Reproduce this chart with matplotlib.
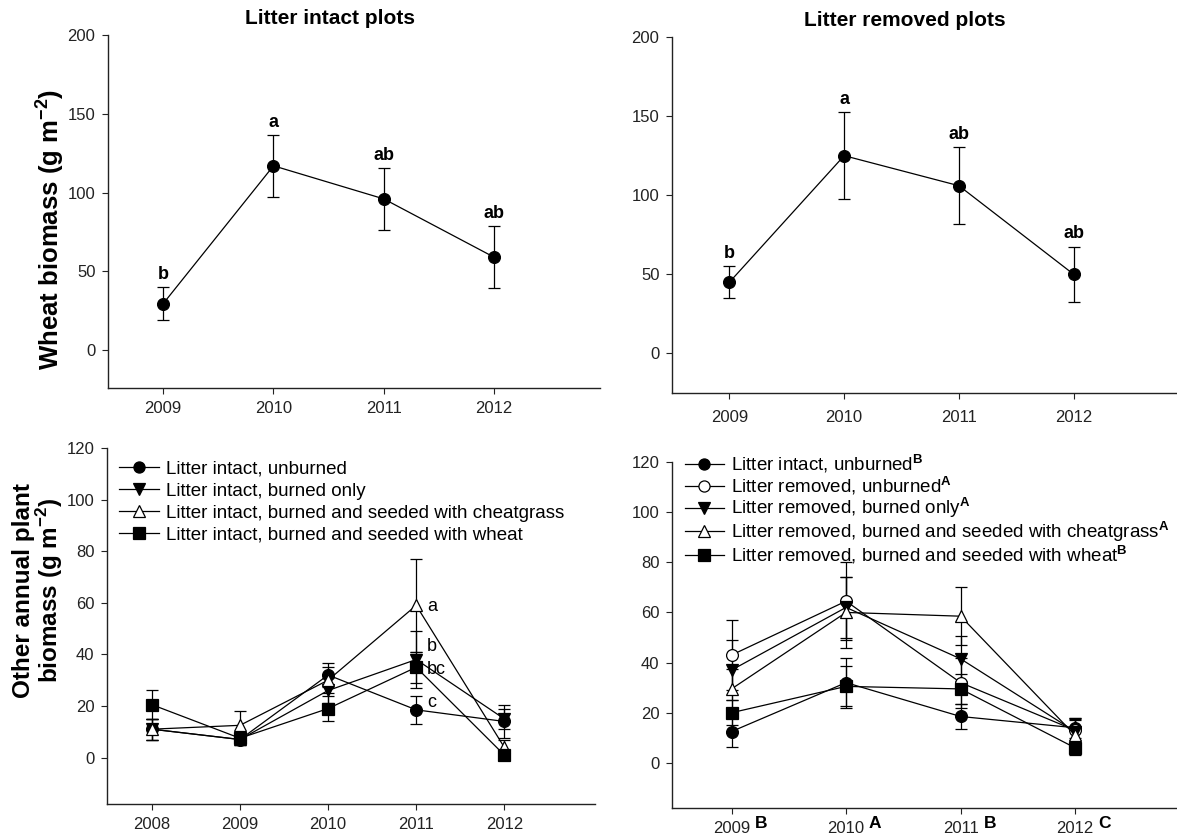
import matplotlib
matplotlib.use("Agg")
import matplotlib.pyplot as plt
from matplotlib.lines import Line2D

plt.rcParams['font.family'] = ['Liberation Sans', 'DejaVu Sans']
plt.rcParams['mathtext.fontset'] = 'custom'
plt.rcParams['mathtext.rm'] = 'Liberation Sans'
plt.rcParams['mathtext.bf'] = 'Liberation Sans:bold'

# wheat biomass, top row
wheat_years = [2009, 2010, 2011, 2012]
wheat_intact = [29.5, 117, 96, 59]
wheat_intact_err = [10.5, 19.5, 19.5, 19.5]
wheat_intact_letters = ['b', 'a', 'ab', 'ab']
wheat_removed = [45, 125, 106, 50]
wheat_removed_err = [10, 27.5, 24.5, 17.5]
wheat_removed_letters = ['b', 'a', 'ab', 'ab']

# other annual plant biomass, litter intact plots
intact_years = [2008, 2009, 2010, 2011, 2012]
intact_unburned = [11, 7, 32, 18.5, 14]
intact_unburned_err = [4, 2, 4.5, 5.5, 6.5]
intact_burned = [11, 7, 26, 38, 15]
intact_burned_err = [4, 2, 5, 11, 4]
intact_cheat = [11, 12.5, 30, 59, 4]
intact_cheat_err = [4, 5.5, 5, 18, 3]
intact_wheat = [20.5, 7.5, 19, 35, 1]
intact_wheat_err = [5.5, 2.5, 5, 6, 1]
intact_letters = ['a', 'b', 'bc', 'c']
intact_letter_y = [58.5, 43, 34, 21.5]

# other annual plant biomass, litter removed plots
removed_years = [2009, 2010, 2011, 2012]
removed_year_letters = ['B', 'A', 'B', 'C']
rem_intact_unburned = [12.5, 32, 18.5, 14]
rem_intact_unburned_err = [6, 10, 5, 4]
rem_unburned = [43, 64.5, 32, 13]
rem_unburned_err = [14, 15.5, 10, 5]
rem_burned = [37, 62, 41.5, 12.5]
rem_burned_err = [12, 12, 9, 5]
rem_cheat = [29.5, 60, 58.5, 11]
rem_cheat_err = [8, 14, 11.5, 6]
rem_wheat = [20, 30.5, 29.5, 6]
rem_wheat_err = [5, 8, 6, 3]

W, H = 1177, 838
fig = plt.figure(figsize=(W / 100, H / 100), dpi=100)


def box(left, right, top, bottom):
    return [left / W, 1 - bottom / H, (right - left) / W, (bottom - top) / H]


def style(ax):
    for s in ['top', 'right']:
        ax.spines[s].set_visible(False)
    for s in ['left', 'bottom']:
        ax.spines[s].set_linewidth(1.0)
        ax.spines[s].set_color('#222222')
    ax.tick_params(direction='out', length=4, width=0.8, labelsize=12,
                   colors='#222222', pad=5)
    ax.patch.set_alpha(0)


def series(ax, x, y, err, marker, filled):
    ax.errorbar(x, y, yerr=err, color='black', lw=0.9, elinewidth=0.9,
                capsize=4.5, capthick=0.9, marker=marker, ms=8.5,
                mfc='black' if filled else 'white', mec='black', mew=0.9,
                zorder=3)
    return Line2D([], [], color='black', lw=0.9, marker=marker, ms=8,
                  mfc='black' if filled else 'white', mec='black', mew=0.9)


def add_legend(ax, handles, labels, anchor, spacing):
    ax.legend(handles, labels, loc='upper left', frameon=False, fontsize=13.5,
              handlelength=2.1, handletextpad=0.4, labelspacing=spacing,
              borderaxespad=0.0, bbox_to_anchor=anchor)


ax1 = fig.add_axes(box(108, 600, 35, 388))
series(ax1, wheat_years, wheat_intact, wheat_intact_err, 'o', True)
for x, y, e, t in zip(wheat_years, wheat_intact, wheat_intact_err, wheat_intact_letters):
    ax1.annotate(t, (x, y + e), xytext=(0, 3), textcoords='offset points',
                 ha='center', va='bottom', fontsize=13, fontweight='bold')
ax1.set_xlim(2008.5, 2012.96)
ax1.set_ylim(-24, 200)
ax1.set_xticks(wheat_years)
ax1.set_yticks([0, 50, 100, 150, 200])
ax1.set_ylabel(r'Wheat biomass (g m$^{\mathbf{-2}}$)', fontsize=18.5,
               fontweight='bold')
ax1.yaxis.set_label_coords(-0.085, 0.45)
style(ax1)

ax2 = fig.add_axes(box(672, 1177, 37, 393))
series(ax2, wheat_years, wheat_removed, wheat_removed_err, 'o', True)
for x, y, e, t in zip(wheat_years, wheat_removed, wheat_removed_err, wheat_removed_letters):
    ax2.annotate(t, (x, y + e), xytext=(0, 3), textcoords='offset points',
                 ha='center', va='bottom', fontsize=13, fontweight='bold')
ax2.set_xlim(2008.5, 2012.9)
ax2.set_ylim(-25, 200)
ax2.set_xticks(wheat_years)
ax2.set_yticks([0, 50, 100, 150, 200])
style(ax2)
ax2.tick_params(axis='x', pad=8)

fig.text(330 / W, 1 - 19 / H, 'Litter intact plots', ha='center', va='center',
         fontsize=15, fontweight='bold')
fig.text(905 / W, 1 - 21 / H, 'Litter removed plots', ha='center', va='center',
         fontsize=15, fontweight='bold')

ax3 = fig.add_axes(box(107, 595, 448, 804))
h3 = [
    series(ax3, intact_years, intact_unburned, intact_unburned_err, 'o', True),
    series(ax3, intact_years, intact_burned, intact_burned_err, 'v', True),
    series(ax3, intact_years, intact_cheat, intact_cheat_err, '^', False),
    series(ax3, intact_years, intact_wheat, intact_wheat_err, 's', True),
]
add_legend(ax3, h3, ['Litter intact, unburned',
                     'Litter intact, burned only',
                     'Litter intact, burned and seeded with cheatgrass',
                     'Litter intact, burned and seeded with wheat'],
           (0.01, 0.985), 0.26)
for t, y in zip(intact_letters, intact_letter_y):
    ax3.text(2011.12, y, t, ha='left', va='center', fontsize=13)
ax3.set_xlim(2007.49, 2013.03)
ax3.set_ylim(-18, 120)
ax3.set_xticks(intact_years)
ax3.set_yticks([0, 20, 40, 60, 80, 100, 120])
ax3.set_ylabel('Other annual plant\nbiomass (g m$^{\\mathbf{-2}}$)', fontsize=17.5,
               fontweight='bold', linespacing=0.95)
ax3.yaxis.set_label_coords(-0.087, 0.6)
style(ax3)

ax4 = fig.add_axes(box(672, 1177, 462, 808))
h4 = [
    series(ax4, removed_years, rem_intact_unburned, rem_intact_unburned_err, 'o', True),
    series(ax4, removed_years, rem_unburned, rem_unburned_err, 'o', False),
    series(ax4, removed_years, rem_burned, rem_burned_err, 'v', True),
    series(ax4, removed_years, rem_cheat, rem_cheat_err, '^', False),
    series(ax4, removed_years, rem_wheat, rem_wheat_err, 's', True),
]
add_legend(ax4, h4, [r'Litter intact, unburned$^{\mathbf{B}}$',
                     r'Litter removed, unburned$^{\mathbf{A}}$',
                     r'Litter removed, burned only$^{\mathbf{A}}$',
                     r'Litter removed, burned and seeded with cheatgrass$^{\mathbf{A}}$',
                     r'Litter removed, burned and seeded with wheat$^{\mathbf{B}}$'],
           (0.01, 1.05), -0.06)
ax4.set_xlim(2008.48, 2012.89)
ax4.set_ylim(-18, 120)
ax4.set_xticks(removed_years)
ax4.set_yticks([0, 20, 40, 60, 80, 100, 120])
for x, t in zip(removed_years, removed_year_letters):
    ax4.annotate(t, (x, 0), xycoords=('data', 'axes fraction'), xytext=(21, -11),
                 textcoords='offset points', ha='center', va='center',
                 fontsize=12.5, fontweight='bold')
style(ax4)

fig.savefig('out.png', dpi=100, facecolor='white')
